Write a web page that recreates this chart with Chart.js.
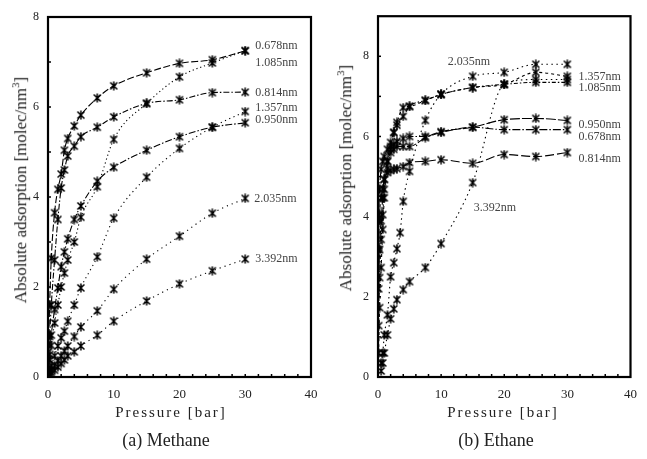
<!DOCTYPE html>
<html>
<head>
<meta charset="utf-8">
<script src="https://cdn.jsdelivr.net/npm/chart.js@4.4.1/dist/chart.umd.min.js"></script>
<style>
  body { margin: 0; background: #fff; width: 647px; height: 459px; position: relative; overflow: hidden;
         font-family: "Liberation Serif", "DejaVu Serif", serif; color: #222; }
  .panel { position: absolute; top: 0; height: 459px; }
  #left { left: 0; width: 330px; }
  #right { left: 330px; width: 317px; }
  .ytitle { position: absolute; font-size: 17px; white-space: nowrap; transform: translate(-50%, -50%) rotate(-90deg); }
  .xtitle { position: absolute; font-size: 15px; letter-spacing: 2px; white-space: nowrap; transform: translateX(-50%); }
  .caption { position: absolute; font-size: 18px; white-space: nowrap; transform: translateX(-50%); }
</style>
</head>
<body>
<div class="panel" id="left"><canvas id="methane"></canvas></div>
<div class="panel" id="right"><canvas id="ethane"></canvas></div>

<div class="ytitle" style="left:20px;top:190px">Absolute adsorption [molec/nm<sup style="font-size:11px">3</sup>]</div>
<div class="ytitle" style="left:345px;top:178px">Absolute adsorption [molec/nm<sup style="font-size:11px">3</sup>]</div>
<div class="xtitle" style="left:171px;top:404px">Pressure [bar]</div>
<div class="xtitle" style="left:503px;top:404px">Pressure [bar]</div>
<div class="caption" style="left:166px;top:430px">(a) Methane</div>
<div class="caption" style="left:496px;top:430px">(b) Ethane</div>

<script>
// pore widths
const poreLabels = ["0.678nm", "0.814nm", "0.950nm", "1.085nm", "1.357nm", "2.035nm", "3.392nm"];

// (a) methane, pressure in bar
const pressCH4 = [0.1, 0.25, 0.5, 1, 1.5, 2, 2.5, 3, 4, 5, 7.5, 10, 15, 20, 25, 30];
const ch4_0678 = [0.7, 1.6, 2.64, 3.65, 4.17, 4.51, 5.04, 5.3, 5.58, 5.82, 6.2, 6.47, 6.76, 6.97, 7.05, 7.25];
const ch4_0814 = [0.4, 0.9, 1.6, 2.6, 3.5, 4.2, 4.6, 4.91, 5.13, 5.34, 5.55, 5.78, 6.08, 6.16, 6.32, 6.33];
const ch4_0950 = [0.2, 0.5, 0.93, 1.5, 1.98, 2.45, 2.78, 3.07, 3.5, 3.8, 4.35, 4.66, 5.04, 5.34, 5.55, 5.65];
const ch4_1085 = [0.15, 0.38, 0.7, 1.2, 1.6, 2.0, 2.31, 2.6, 3.0, 3.55, 4.23, 5.28, 6.08, 6.67, 6.98, 7.25];
const ch4_1357 = [0.05, 0.12, 0.25, 0.47, 0.69, 0.87, 1.02, 1.24, 1.6, 1.98, 2.67, 3.53, 4.44, 5.08, 5.55, 5.9];
const ch4_2035 = [0.03, 0.08, 0.15, 0.25, 0.36, 0.47, 0.58, 0.69, 0.9, 1.11, 1.47, 1.95, 2.62, 3.13, 3.64, 3.97];
const ch4_3392 = [null, 0.05, 0.1, 0.15, 0.22, 0.3, 0.38, 0.47, 0.56, 0.69, 0.93, 1.24, 1.69, 2.07, 2.36, 2.62];

// (b) ethane
const pressC2H6 = [0.1, 0.25, 0.5, 0.75, 1, 1.5, 2, 2.5, 3, 3.5, 4, 5, 7.5, 10, 15, 20, 25, 30];
const c2h6_0678 = [3.9, 4.68, 5.18, 5.38, 5.5, 5.68, 5.75, 5.8, 5.88, null, 5.95, 6.0, 6.0, 6.1, 6.23, 6.17, 6.17, 6.17];
const c2h6_0814 = [3.18, 4.05, 4.47, 4.7, 4.93, 5.1, 5.15, 5.18, 5.2, null, 5.25, 5.35, 5.38, 5.42, 5.33, 5.55, 5.5, 5.6];
const c2h6_0950 = [2.2, 3.18, 3.9, 4.47, 4.93, 5.38, 5.6, 5.68, 5.75, null, 5.75, 5.75, 5.97, 6.12, 6.23, 6.42, 6.45, 6.4];
const c2h6_1085 = [1.28, 2.48, 3.43, 4.05, 4.68, 5.2, 5.68, 6.1, 6.28, null, 6.5, 6.75, 6.9, 7.05, 7.22, 7.3, 7.35, 7.35];
const c2h6_1357 = [0.6, 1.73, 2.73, 3.68, 4.47, 5.38, 5.85, 6.1, 6.35, null, 6.72, 6.75, 6.9, 7.05, 7.22, 7.3, 7.6, 7.5];
const c2h6_2035 = [null, null, 0.35, 0.6, 1.05, 1.55, 2.5, 2.85, 3.2, 3.6, 4.38, 5.13, 6.4, 7.05, 7.5, 7.6, 7.8, 7.8];
const c2h6_3392 = [null, null, 0.15, 0.35, 0.6, 1.05, 1.45, 1.7, 1.93, null, 2.18, 2.38, 2.73, 3.33, 4.85, 7.3, 7.42, 7.42];

const xTicks = [0, 10, 20, 30, 40];
const yTicks = [0, 2, 4, 6, 8];

// asterisk marker, like the one in the scan
function starMark() {
  const c = document.createElement("canvas");
  c.width = c.height = 10;
  const g = c.getContext("2d");
  g.strokeStyle = "#000";
  g.lineWidth = 1.5;
  g.beginPath();
  g.moveTo(1.5, 1.5); g.lineTo(8.5, 8.5);
  g.moveTo(8.5, 1.5); g.lineTo(1.5, 8.5);
  g.moveTo(5, 0.5); g.lineTo(5, 9.5);
  g.stroke();
  return c;
}
const mark = starMark();

function series(press, vals, dash) {
  const pts = [];
  press.forEach((p, i) => { if (vals[i] != null) pts.push({ x: p, y: vals[i] }); });
  return {
    data: pts, borderColor: "#000", borderWidth: 1.1, borderDash: dash,
    pointStyle: mark, pointRadius: 4, pointHoverRadius: 4,
    cubicInterpolationMode: "monotone", fill: false
  };
}

// frame, inner ticks and pore labels (labels kept in the closure)
function framePlugin(labels) {
  return {
    id: "frame",
    afterDatasetsDraw(chart) {
      const { ctx, chartArea: a, scales: { x, y } } = chart;
      ctx.save();
      ctx.strokeStyle = "#000";
      ctx.lineWidth = 2.2;
      ctx.strokeRect(a.left, a.top, a.right - a.left, a.bottom - a.top);
      ctx.lineWidth = 1.5;
      for (let v = 1; v < y.max; v++) {
        const py = y.getPixelForValue(v);
        ctx.beginPath(); ctx.moveTo(a.left, py); ctx.lineTo(a.left + 3, py); ctx.stroke();
      }
      for (let v = 2; v < x.max; v += 2) {
        const px = x.getPixelForValue(v);
        ctx.beginPath(); ctx.moveTo(px, a.bottom); ctx.lineTo(px, a.bottom - 3); ctx.stroke();
      }
      ctx.fillStyle = "#444";
      ctx.font = '12px "Liberation Serif"';
      ctx.textBaseline = "middle";
      labels.forEach((l) => {
        const pts = chart.getDatasetMeta(l.ds).data;
        let pt = pts[pts.length - 1];
        if (typeof l.at === "number") {
          const px = x.getPixelForValue(l.at);
          pt = pts.reduce((b, e) => (Math.abs(e.x - px) < Math.abs(b.x - px) ? e : b), pts[0]);
        }
        if (pt) ctx.fillText(poreLabels[l.ds], pt.x + l.dx, pt.y + l.dy);
      });
      ctx.restore();
    }
  };
}

function makeChart(id, w, press, vals, dashes, yMax, pad, labels) {
  const cv = document.getElementById(id);
  cv.width = w; cv.height = 459;
  cv.style.width = w + "px"; cv.style.height = "459px";
  return new Chart(cv, {
    type: "line",
    data: { datasets: vals.map((v, i) => series(press, v, dashes[i])) },
    options: {
      responsive: false, animation: false,
      layout: { padding: pad },
      plugins: { legend: { display: false }, tooltip: { enabled: false } },
      scales: {
        x: {
          type: "linear", min: 0, max: 40,
          afterBuildTicks: (s) => { s.ticks = xTicks.map((v) => ({ value: v })); },
          ticks: { color: "#222", padding: 10, font: { family: "Liberation Serif", size: 13 } },
          grid: { display: false, drawTicks: false }, border: { display: false },
          afterFit: (s) => { s.height = 30; }
        },
        y: {
          min: 0, max: yMax,
          afterBuildTicks: (s) => { s.ticks = yTicks.map((v) => ({ value: v })); },
          ticks: { color: "#222", padding: 9, font: { family: "Liberation Serif", size: 12 } },
          grid: { display: false, drawTicks: false }, border: { display: false },
          afterFit: (s) => { s.width = 48; }
        }
      }
    },
    plugins: [framePlugin(labels)]
  });
}

makeChart("methane", 330, pressCH4,
  [ch4_0678, ch4_0814, ch4_0950, ch4_1085, ch4_1357, ch4_2035, ch4_3392],
  [[7, 2.5], [6, 2, 1.5, 2], [7, 2, 1.5, 2], [1.2, 2.8], [1.2, 3.5], [1.2, 4], [1.2, 4]],
  8, { left: 0, right: 19, top: 17, bottom: 52 },
  [
    { ds: 0, dx: 10, dy: -5 }, { ds: 3, dx: 10, dy: 12 }, { ds: 1, dx: 10, dy: 1 },
    { ds: 4, dx: 10, dy: -4 }, { ds: 2, dx: 10, dy: -3 }, { ds: 5, dx: 9, dy: 0 }, { ds: 6, dx: 10, dy: 0 }
  ]);

makeChart("ethane", 317, pressC2H6,
  [c2h6_0678, c2h6_0814, c2h6_0950, c2h6_1085, c2h6_1357, c2h6_2035, c2h6_3392],
  [[8, 2, 1.5, 2], [9, 3], [10, 2], [4, 2, 1.5, 2], [3, 3], [1.5, 3.5], [1.5, 3.5]],
  9, { left: 0, right: 4, top: 16, bottom: 52 },
  [
    { ds: 4, dx: 11, dy: 1 }, { ds: 3, dx: 11, dy: 5 }, { ds: 2, dx: 11, dy: 4 },
    { ds: 0, dx: 11, dy: 7 }, { ds: 1, dx: 11, dy: 6 },
    { ds: 6, at: 15, dx: 1, dy: 25 }, { ds: 5, at: 15, dx: -25, dy: -14 }
  ]);
</script>
</body>
</html>
